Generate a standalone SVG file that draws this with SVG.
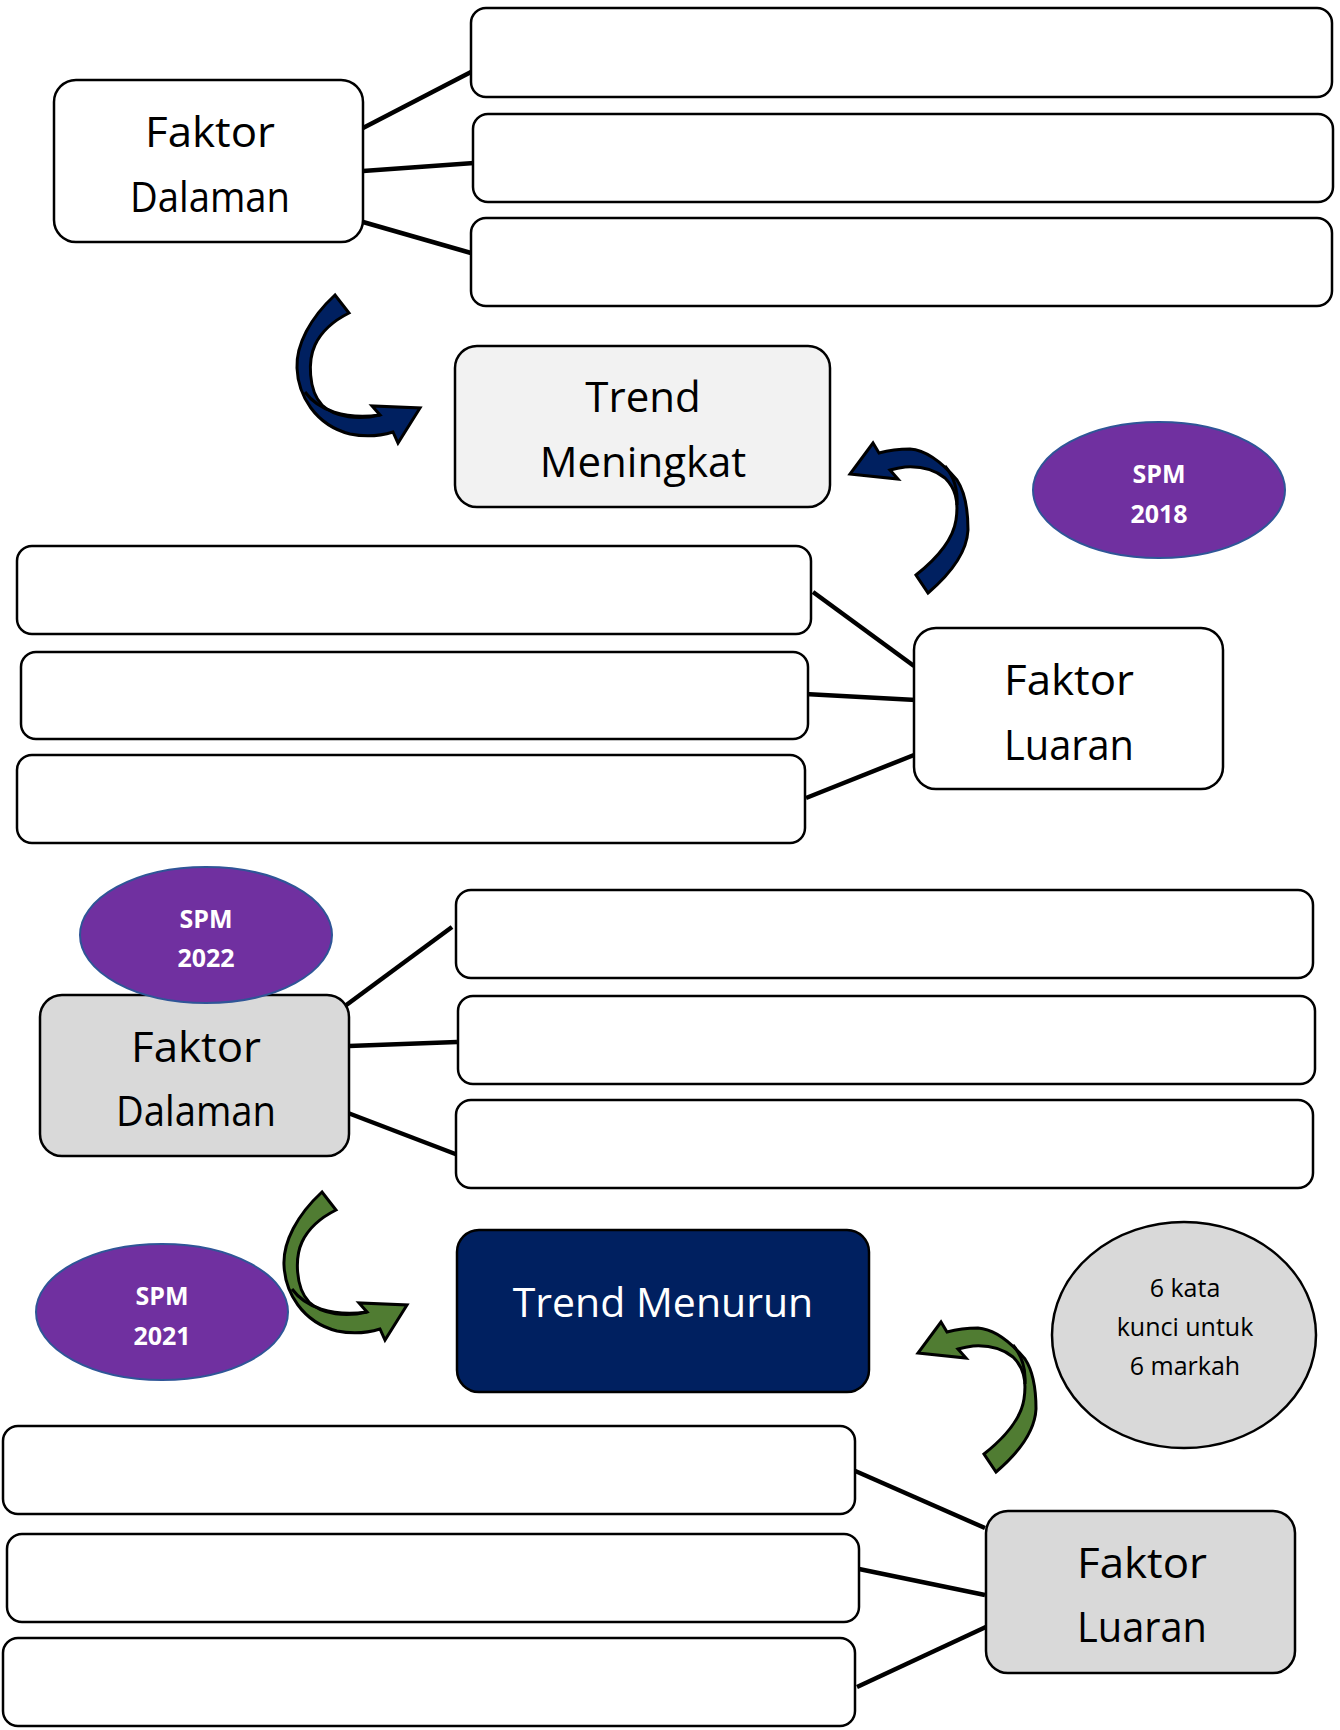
<svg xmlns="http://www.w3.org/2000/svg" width="1340" height="1730" viewBox="0 0 1340 1730">
<defs>
<style>
.box{fill:#ffffff;stroke:#000;stroke-width:2.5}
.grey{fill:#d9d9d9;stroke:#000;stroke-width:2.5}
.light{fill:#f2f2f2;stroke:#000;stroke-width:2.5}
.navybox{fill:#002060;stroke:#000;stroke-width:2.5}
.con{stroke:#000;stroke-width:4.5;fill:none}
.t{font-family:"Open Sans","DejaVu Sans",sans-serif;font-size:42px;fill:#000;text-anchor:middle}
.tw{font-family:"Open Sans","DejaVu Sans",sans-serif;font-size:41px;fill:#fff;text-anchor:middle}
.spm{fill:#7030a0;stroke:#2f5597;stroke-width:2}
.st{font-family:"Open Sans","DejaVu Sans",sans-serif;font-size:25px;font-weight:bold;fill:#fff;text-anchor:middle}
.sm{font-family:"Open Sans","DejaVu Sans",sans-serif;font-size:25px;fill:#000;text-anchor:middle}
.navy{fill:#002060;stroke:#000;stroke-width:3;stroke-linejoin:miter}
.green{fill:#507c32;stroke:#000;stroke-width:3;stroke-linejoin:miter}
.fold{fill:none;stroke:#000;stroke-width:3}
</style>
<path id="arrowA" d="M335,295 C310,318 296,345 297,368 C298,395 315,425 350,434 C365,437 380,436 393,432 L398,443 L420,408 L372,406 L380,415 C360,420 335,418 322,405 C308,390 308,360 315,345 C322,330 335,320 349,313 Z"/>
<path id="arrowB" d="M879,453 C890,450 900,449 910,449 C925,450 940,460 957,480 C965,492 968,510 968,530 C967,550 955,570 928,593 L916,575 C935,560 953,540 956,520 C959,500 955,488 945,478 C935,470 920,466 905,467 C898,468 894,469 890,470 L898,479 L850,474 L873,443 Z"/>
</defs>

<g id="connectors">
<line class="con" x1="363" y1="128" x2="471" y2="72"/>
<line class="con" x1="363" y1="171" x2="474" y2="163"/>
<line class="con" x1="363" y1="222" x2="471" y2="253"/>
<line class="con" x1="813" y1="592" x2="914" y2="666"/>
<line class="con" x1="805" y1="694" x2="916" y2="700"/>
<line class="con" x1="806" y1="798" x2="914" y2="755"/>
<line class="con" x1="345" y1="1006" x2="452" y2="927"/>
<line class="con" x1="349" y1="1046" x2="457" y2="1042"/>
<line class="con" x1="348" y1="1113" x2="458" y2="1155"/>
<line class="con" x1="853" y1="1470" x2="985" y2="1528"/>
<line class="con" x1="859" y1="1569" x2="985" y2="1595"/>
<line class="con" x1="857" y1="1687" x2="988" y2="1626"/>
</g>

<g id="arrows">
<g id="arrow1"><use href="#arrowA" class="navy"/><path class="fold" d="M305,392 C318,410 345,420 380,415"/></g>
<g id="arrow2"><use href="#arrowB" class="navy"/><path class="fold" d="M945,466 C955,478 958,490 957,505"/></g>
<g id="arrow3" transform="translate(-13,897)"><use href="#arrowA" class="green"/><path class="fold" d="M305,392 C318,410 345,420 380,415"/></g>
<g id="arrow4" transform="translate(68,879)"><use href="#arrowB" class="green"/><path class="fold" d="M945,466 C955,478 958,490 957,505"/></g>
</g>

<g id="faktor-dalaman-1">
<rect class="box" x="54" y="80" width="309" height="162" rx="22"/>
<text class="t" x="210" y="147" textLength="130" lengthAdjust="spacingAndGlyphs">Faktor</text>
<text class="t" x="210" y="212" textLength="160" lengthAdjust="spacingAndGlyphs">Dalaman</text>
</g>
<g id="box-tr1"><rect class="box" x="471" y="8" width="861" height="89" rx="15"/></g>
<g id="box-tr2"><rect class="box" x="473" y="114" width="860" height="88" rx="15"/></g>
<g id="box-tr3"><rect class="box" x="471" y="218" width="861" height="88" rx="15"/></g>

<g id="trend-meningkat">
<rect class="light" x="455" y="346" width="375" height="161" rx="22"/>
<text class="t" x="643" y="412">Trend</text>
<text class="t" x="643" y="477">Meningkat</text>
</g>

<g id="spm-2018">
<ellipse class="spm" cx="1159" cy="490" rx="126" ry="68"/>
<text class="st" x="1159" y="483">SPM</text>
<text class="st" x="1159" y="523">2018</text>
</g>

<g id="box-ml1"><rect class="box" x="17" y="546" width="794" height="88" rx="15"/></g>
<g id="box-ml2"><rect class="box" x="21" y="652" width="787" height="87" rx="15"/></g>
<g id="box-ml3"><rect class="box" x="17" y="755" width="788" height="88" rx="15"/></g>

<g id="faktor-luaran-1">
<rect class="box" x="914" y="628" width="309" height="161" rx="22"/>
<text class="t" x="1069" y="695" textLength="130" lengthAdjust="spacingAndGlyphs">Faktor</text>
<text class="t" x="1069" y="760" textLength="130" lengthAdjust="spacingAndGlyphs">Luaran</text>
</g>

<g id="faktor-dalaman-2">
<rect class="grey" x="40" y="995" width="309" height="161" rx="22"/>
<text class="t" x="196" y="1062" textLength="130" lengthAdjust="spacingAndGlyphs">Faktor</text>
<text class="t" x="196" y="1126" textLength="160" lengthAdjust="spacingAndGlyphs">Dalaman</text>
</g>

<g id="spm-2022">
<ellipse class="spm" cx="206" cy="935" rx="126" ry="68"/>
<text class="st" x="206" y="928">SPM</text>
<text class="st" x="206" y="967">2022</text>
</g>

<g id="box-mr1"><rect class="box" x="456" y="890" width="857" height="88" rx="15"/></g>
<g id="box-mr2"><rect class="box" x="458" y="996" width="857" height="88" rx="15"/></g>
<g id="box-mr3"><rect class="box" x="456" y="1100" width="857" height="88" rx="15"/></g>

<g id="spm-2021">
<ellipse class="spm" cx="162" cy="1312" rx="126" ry="68"/>
<text class="st" x="162" y="1305">SPM</text>
<text class="st" x="162" y="1345">2021</text>
</g>

<g id="trend-menurun">
<rect class="navybox" x="457" y="1230" width="412" height="162" rx="22"/>
<text class="tw" x="663" y="1317">Trend Menurun</text>
</g>

<g id="kata-kunci">
<ellipse cx="1184" cy="1335" rx="132" ry="113" fill="#d9d9d9" stroke="#000" stroke-width="2.5"/>
<text class="sm" x="1185" y="1297">6 kata</text>
<text class="sm" x="1185" y="1336">kunci untuk</text>
<text class="sm" x="1185" y="1375">6 markah</text>
</g>

<g id="box-bl1"><rect class="box" x="3" y="1426" width="852" height="88" rx="15"/></g>
<g id="box-bl2"><rect class="box" x="7" y="1534" width="852" height="88" rx="15"/></g>
<g id="box-bl3"><rect class="box" x="3" y="1638" width="852" height="88" rx="15"/></g>

<g id="faktor-luaran-2">
<rect class="grey" x="986" y="1511" width="309" height="162" rx="22"/>
<text class="t" x="1142" y="1578" textLength="130" lengthAdjust="spacingAndGlyphs">Faktor</text>
<text class="t" x="1142" y="1642" textLength="130" lengthAdjust="spacingAndGlyphs">Luaran</text>
</g>
</svg>
